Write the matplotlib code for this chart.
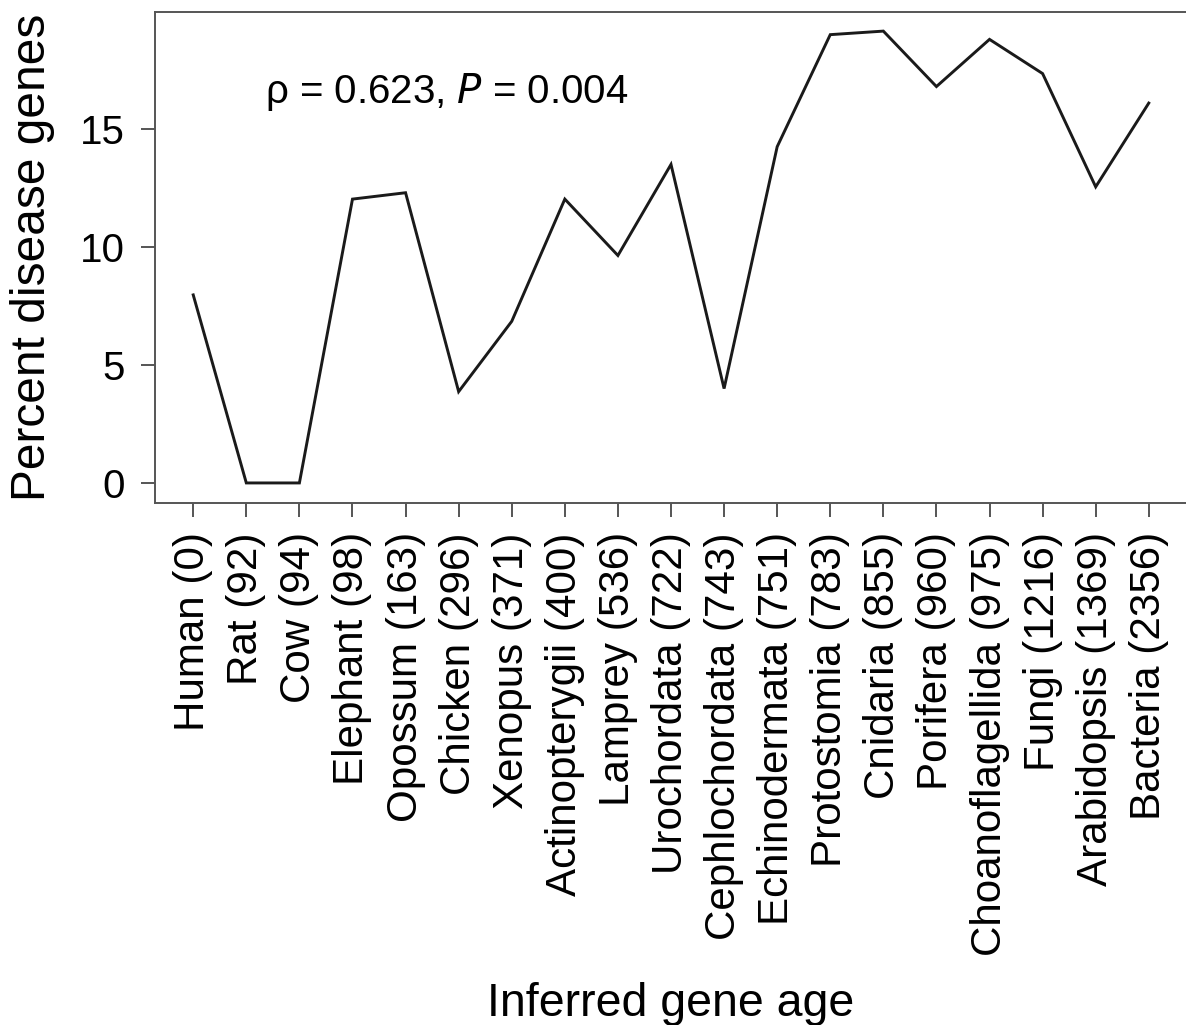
import matplotlib
matplotlib.use("Agg")
import matplotlib.pyplot as plt

plt.rcParams['font.family'] = ['Liberation Sans', 'DejaVu Sans']

categories = ["Human (0)", "Rat (92)", "Cow (94)", "Elephant (98)", "Opossum (163)",
              "Chicken (296)", "Xenopus (371)", "Actinopterygii (400)", "Lamprey (536)",
              "Urochordata (722)", "Cephlochordata (743)", "Echinodermata (751)",
              "Protostomia (783)", "Cnidaria (855)", "Porifera (960)",
              "Choanoflagellida (975)", "Fungi (1216)", "Arabidopsis (1369)",
              "Bacteria (2356)"]
percent = [7.97, 0.0, 0.0, 12.03, 12.3, 3.87, 6.85, 12.03, 9.64, 13.5, 4.0, 14.25,
           19.0, 19.15, 16.8, 18.8, 17.35, 12.55, 16.1]
yticks = [0, 5, 10, 15]

fig = plt.figure(figsize=(11.86, 10.25), dpi=100)
ax = fig.add_axes([155/1186, 1 - 503/1025, 1032/1186, 491/1025])

x = list(range(len(categories)))
ax.plot(x, percent, color='#1a1a1a', lw=2.1, solid_joinstyle='miter')

ax.set_xlim(-0.72, 18.72)
ax.set_ylim(-0.85, 19.96)

ax.set_xticks(x)
ax.set_xticklabels(categories, rotation=90, ha='center', va='top', fontsize=30.3)
ax.set_yticks(yticks)
ax.set_yticklabels([str(v) for v in yticks], fontsize=29)

spine_col = '#555555'
for s in ['left', 'bottom', 'top']:
    ax.spines[s].set_color(spine_col)
    ax.spines[s].set_linewidth(1.4)
ax.spines['right'].set_visible(False)

ax.tick_params(axis='x', direction='out', length=10, width=1.4, color=spine_col, pad=11, labelcolor='black')
ax.tick_params(axis='y', direction='out', length=10, width=1.4, color=spine_col, pad=12, labelcolor='black')

ax.set_ylabel("Percent disease genes", fontsize=34.5, va='center')
ax.yaxis.set_label_coords((32 - 155) / 1032, 0.5)
ax.set_xlabel("Inferred gene age", fontsize=33.5, va='baseline')
ax.xaxis.set_label_coords(0.5, -(1016 - 503) / 491)

ax.text(1.36, 16.57, r"ρ = 0.623, $\it{P}$ = 0.004", fontsize=29, ha='left', va='center')

fig.savefig("out.png", dpi=100)
